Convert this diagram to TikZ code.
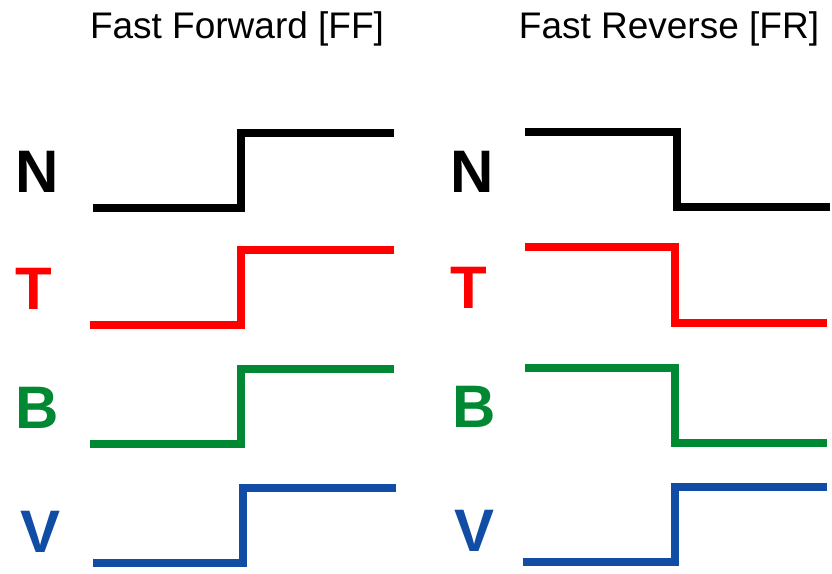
\documentclass[tikz,border=0pt]{standalone}
\usepackage{fontspec}
\setmainfont{Liberation Sans}
\definecolor{sigred}{RGB}{255,0,0}
\definecolor{siggreen}{RGB}{0,136,51}
\definecolor{sigblue}{RGB}{17,76,165}
\begin{document}
\begin{tikzpicture}[x=1pt,y=-1pt,
  wave/.style={line width=8pt,line join=miter,line cap=butt},
  lbl/.style={anchor=base,inner sep=0pt,font=\fontsize{60}{60}\selectfont\bfseries},
  ttl/.style={anchor=base,inner sep=0pt,font=\fontsize{37}{37}\selectfont}]
\useasboundingbox (0,0) rectangle (832,573);
% titles
\node[ttl] (t1) at (237,38) {Fast Forward [FF]};
\node[ttl] (t2) at (669,38) {Fast Reverse [FR]};
% labels
\node[lbl] (nl) at (37,192) {N};
\node[lbl,text=sigred] (tl) at (34,309) {T};
\node[lbl,text=siggreen] (bl) at (37,428) {B};
\node[lbl,text=sigblue] (vl) at (41,552) {V};
\node[lbl] (nr) at (472,192) {N};
\node[lbl,text=sigred] (tr) at (469,308) {T};
\node[lbl,text=siggreen] (br) at (474,427) {B};
\node[lbl,text=sigblue] (vr) at (475,551) {V};
% left waveforms (rising)
\draw[wave,black] (93,208) -- (241,208) -- (241,133) -- (394,133);
\draw[wave,sigred] (90,325) -- (241,325) -- (241,250) -- (394,250);
\draw[wave,siggreen] (90,444) -- (241,444) -- (241,369) -- (394,369);
\draw[wave,sigblue] (93,563) -- (243,563) -- (243,488) -- (396,488);
% right waveforms
\draw[wave,black] (525,132) -- (677,132) -- (677,207) -- (830,207);
\draw[wave,sigred] (525,247) -- (675,247) -- (675,323) -- (827,323);
\draw[wave,siggreen] (525,368) -- (675,368) -- (675,443) -- (827,443);
\draw[wave,sigblue] (523,562) -- (675,562) -- (675,487) -- (827,487);
\end{tikzpicture}
\end{document}
